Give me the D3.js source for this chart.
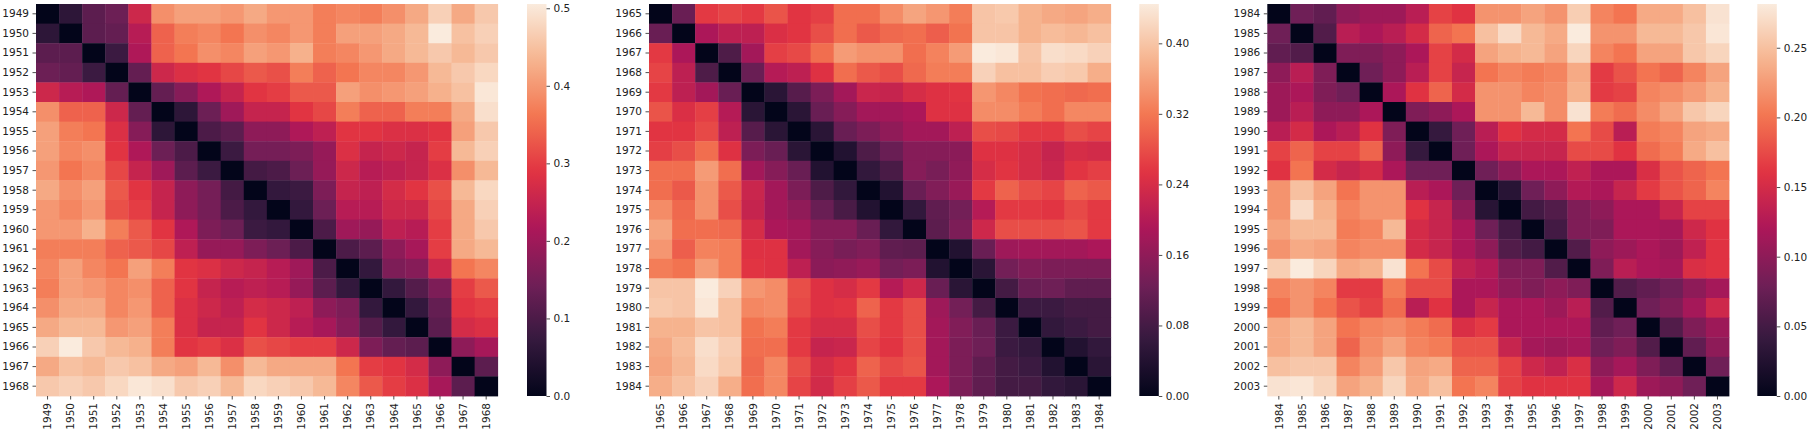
<!DOCTYPE html>
<html><head><meta charset="utf-8">
<script src="https://cdn.jsdelivr.net/npm/d3@7"></script>
<style>body{margin:0;background:#fff}svg{display:block}text{font-family:"DejaVu Sans",sans-serif}</style>
</head><body><svg id="chart" width="1812" height="433"></svg>
<script>
// ---------- data ----------
const years1 = ["1949","1950","1951","1952","1953","1954","1955","1956","1957","1958","1959","1960","1961","1962","1963","1964","1965","1966","1967","1968"];
const years2 = ["1965","1966","1967","1968","1969","1970","1971","1972","1973","1974","1975","1976","1977","1978","1979","1980","1981","1982","1983","1984"];
const years3 = ["1984","1985","1986","1987","1988","1989","1990","1991","1992","1993","1994","1995","1996","1997","1998","1999","2000","2001","2002","2003"];

// lower triangles (row i: values against columns 0..i-1); matrices are symmetric with a zero diagonal
const tri1 = [
[],
[0.06],
[0.12,0.12],
[0.14,0.13,0.08],
[0.26,0.23,0.22,0.13],
[0.39,0.34,0.34,0.26,0.13],
[0.41,0.37,0.36,0.28,0.17,0.06],
[0.41,0.38,0.39,0.29,0.22,0.14,0.10],
[0.40,0.36,0.38,0.31,0.25,0.20,0.12,0.08],
[0.42,0.39,0.41,0.33,0.29,0.25,0.18,0.15,0.09],
[0.40,0.38,0.40,0.32,0.30,0.25,0.18,0.15,0.10,0.07],
[0.40,0.40,0.43,0.37,0.33,0.29,0.22,0.16,0.14,0.08,0.07],
[0.37,0.37,0.37,0.34,0.33,0.31,0.24,0.19,0.19,0.16,0.14,0.10],
[0.38,0.41,0.38,0.36,0.41,0.37,0.29,0.28,0.26,0.25,0.23,0.20,0.10],
[0.37,0.41,0.40,0.38,0.39,0.34,0.29,0.25,0.23,0.24,0.23,0.19,0.12,0.07],
[0.39,0.42,0.42,0.38,0.40,0.34,0.28,0.26,0.24,0.27,0.26,0.24,0.18,0.16,0.07],
[0.42,0.44,0.44,0.40,0.41,0.37,0.28,0.25,0.25,0.29,0.26,0.23,0.21,0.17,0.11,0.07],
[0.47,0.5055,0.46,0.44,0.43,0.37,0.29,0.30,0.28,0.32,0.31,0.30,0.30,0.26,0.16,0.13,0.12],
[0.42,0.45,0.44,0.46,0.45,0.42,0.41,0.44,0.39,0.44,0.42,0.42,0.42,0.36,0.30,0.29,0.27,0.18],
[0.46,0.47,0.46,0.48,0.50,0.49,0.46,0.47,0.44,0.48,0.47,0.46,0.44,0.38,0.33,0.30,0.28,0.21,0.12]
];
const tri2 = [
[],
[0.12],
[0.26,0.19],
[0.27,0.21,0.09],
[0.26,0.21,0.18,0.12],
[0.285,0.245,0.265,0.20,0.05],
[0.255,0.255,0.275,0.21,0.10,0.05],
[0.265,0.28,0.31,0.25,0.14,0.12,0.05],
[0.31,0.31,0.355,0.31,0.18,0.15,0.12,0.04],
[0.31,0.29,0.345,0.29,0.225,0.18,0.14,0.09,0.06],
[0.34,0.305,0.345,0.28,0.22,0.18,0.16,0.12,0.085,0.04],
[0.365,0.31,0.31,0.305,0.24,0.19,0.18,0.15,0.15,0.12,0.06],
[0.35,0.295,0.33,0.325,0.25,0.25,0.18,0.15,0.135,0.145,0.11,0.105],
[0.325,0.315,0.355,0.325,0.255,0.25,0.21,0.155,0.16,0.17,0.13,0.14,0.04],
[0.40,0.40,0.4446,0.415,0.35,0.34,0.28,0.25,0.24,0.26,0.20,0.23,0.12,0.05],
[0.405,0.40,0.44,0.395,0.335,0.34,0.275,0.25,0.255,0.30,0.26,0.28,0.175,0.13,0.08],
[0.38,0.38,0.40,0.395,0.315,0.325,0.26,0.24,0.24,0.28,0.26,0.28,0.18,0.145,0.12,0.07],
[0.37,0.39,0.43,0.41,0.31,0.31,0.26,0.22,0.225,0.27,0.255,0.28,0.18,0.14,0.125,0.07,0.06],
[0.365,0.385,0.425,0.405,0.305,0.335,0.28,0.24,0.255,0.30,0.275,0.285,0.18,0.14,0.11,0.08,0.07,0.04],
[0.375,0.395,0.415,0.375,0.31,0.335,0.27,0.235,0.265,0.29,0.26,0.26,0.19,0.14,0.11,0.08,0.08,0.06,0.05]
];
const tri3 = [
[],
[0.08],
[0.07,0.06],
[0.10,0.13,0.09],
[0.11,0.12,0.09,0.08],
[0.11,0.13,0.10,0.10,0.12],
[0.13,0.15,0.12,0.13,0.16,0.09],
[0.17,0.19,0.17,0.17,0.19,0.10,0.04],
[0.16,0.20,0.15,0.14,0.15,0.12,0.08,0.08],
[0.22,0.25,0.23,0.20,0.22,0.22,0.13,0.12,0.08],
[0.22,0.27,0.24,0.21,0.22,0.22,0.16,0.14,0.10,0.03],
[0.23,0.245,0.245,0.205,0.21,0.245,0.15,0.14,0.12,0.08,0.05],
[0.22,0.235,0.23,0.21,0.215,0.215,0.15,0.14,0.12,0.10,0.06,0.05],
[0.26,0.2814,0.265,0.235,0.24,0.275,0.20,0.175,0.135,0.125,0.09,0.09,0.06],
[0.21,0.22,0.21,0.165,0.165,0.205,0.175,0.175,0.12,0.12,0.10,0.09,0.10,0.09],
[0.20,0.22,0.20,0.18,0.17,0.195,0.13,0.16,0.12,0.14,0.12,0.12,0.11,0.13,0.06],
[0.235,0.245,0.23,0.20,0.21,0.215,0.205,0.195,0.155,0.165,0.12,0.12,0.12,0.12,0.07,0.08],
[0.235,0.245,0.23,0.19,0.215,0.23,0.21,0.205,0.18,0.18,0.14,0.115,0.11,0.115,0.08,0.09,0.06],
[0.25,0.255,0.255,0.21,0.225,0.255,0.23,0.235,0.19,0.19,0.17,0.145,0.135,0.155,0.10,0.115,0.09,0.07],
[0.275,0.278,0.265,0.23,0.24,0.265,0.235,0.25,0.20,0.21,0.17,0.16,0.16,0.16,0.115,0.145,0.11,0.10,0.08]
];

const ticks1 = [0.0,0.1,0.2,0.3,0.4,0.5];
const ticks2 = [0.00,0.08,0.16,0.24,0.32,0.40];
const ticks3 = [0.00,0.05,0.10,0.15,0.20,0.25];

// seaborn "rocket" colormap anchors
const rocketStops  = [0,1/7,2/7,3/7,4/7,5/7,6/7,1];
const rocketColors = ["#03051a","#35193e","#701f57","#ad1759","#e13342","#f37651","#f6b48f","#faebdd"];

// ---------- drawing ----------
const svg = d3.select("#chart");
const rocket = d3.scaleLinear().domain(rocketStops).range(rocketColors).interpolate(d3.interpolateRgb).clamp(true);

const panels = [
  {years: years1, tri: tri1, ticks: ticks1, fmt: ".1f", left: 36,     cbLeft: 527},
  {years: years2, tri: tri2, ticks: ticks2, fmt: ".2f", left: 649,    cbLeft: 1139.3},
  {years: years3, tri: tri3, ticks: ticks3, fmt: ".2f", left: 1267.3, cbLeft: 1757.3}
];
const plotTop = 4, plotBottom = 396, W = 461.7, cbW = 19.5;
const fontSize = 10.5, tickLen = 3.5, textColor = "#222";

function fullMatrix(tri){
  const n = tri.length;
  const m = Array.from({length:n}, () => new Array(n).fill(0));
  tri.forEach((row,i) => row.forEach((v,j) => { m[i][j] = v; m[j][i] = v; }));
  return m;
}

const defs = svg.append("defs");

panels.forEach((p, pi) => {
  const M = fullMatrix(p.tri);
  const vmax = d3.max(M.flat());
  const vmin = d3.min(M.flat());
  const color = v => rocket((v - vmin) / (vmax - vmin));

  const x = d3.scaleBand().domain(p.years).range([p.left, p.left + W]).padding(0);
  const y = d3.scaleBand().domain(p.years).range([plotTop, plotBottom]).padding(0);

  const cells = [];
  M.forEach((row,i) => row.forEach((v,j) => cells.push({r: p.years[i], c: p.years[j], v})));

  svg.append("g").selectAll("rect").data(cells).join("rect")
    .attr("x", d => x(d.c)).attr("y", d => y(d.r))
    .attr("width", x.bandwidth() + 0.4).attr("height", y.bandwidth() + 0.4)
    .attr("fill", d => color(d.v));

  // y axis
  const gy = svg.append("g").attr("transform", `translate(${p.left},0)`)
    .call(d3.axisLeft(y).tickSize(tickLen).tickPadding(3.5));
  gy.select(".domain").remove();
  gy.selectAll("line").attr("stroke", textColor).attr("stroke-width", 0.8);
  gy.selectAll("text").attr("fill", textColor).style("font-size", fontSize + "px").style("font-family", "DejaVu Sans");

  // x axis
  const gx = svg.append("g").attr("transform", `translate(0,${plotBottom})`)
    .call(d3.axisBottom(x).tickSize(tickLen));
  gx.select(".domain").remove();
  gx.selectAll("line").attr("stroke", textColor).attr("stroke-width", 0.8);
  gx.selectAll("text")
    .attr("fill", textColor).style("font-size", fontSize + "px").style("font-family", "DejaVu Sans")
    .attr("transform", "rotate(-90)")
    .attr("x", -(tickLen + 3.5)).attr("y", 0).attr("dy", "0.35em")
    .style("text-anchor", "end");

  // colorbar
  const gid = "cbgrad" + pi;
  const grad = defs.append("linearGradient").attr("id", gid)
    .attr("x1", 0).attr("y1", 1).attr("x2", 0).attr("y2", 0);
  d3.range(0, 1.0001, 0.02).forEach(t => {
    grad.append("stop").attr("offset", t).attr("stop-color", rocket(t));
  });
  svg.append("rect").attr("x", p.cbLeft).attr("y", plotTop).attr("width", cbW).attr("height", plotBottom - plotTop)
    .attr("fill", `url(#${gid})`);
  const cy = d3.scaleLinear().domain([vmin, vmax]).range([plotBottom, plotTop]);
  const gc = svg.append("g").attr("transform", `translate(${p.cbLeft + cbW},0)`)
    .call(d3.axisRight(cy).tickValues(p.ticks).tickFormat(d3.format(p.fmt)).tickSize(tickLen).tickPadding(3.5));
  gc.select(".domain").remove();
  gc.selectAll("line").attr("stroke", textColor).attr("stroke-width", 0.8);
  gc.selectAll("text").attr("fill", textColor).style("font-size", fontSize + "px").style("font-family", "DejaVu Sans");
});
</script></body></html>
